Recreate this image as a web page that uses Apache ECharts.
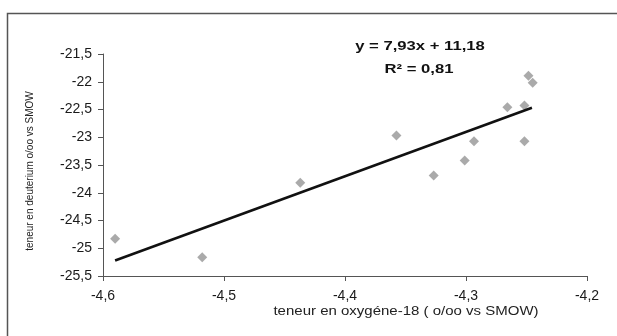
<!DOCTYPE html>
<html><head><meta charset="utf-8">
<script src="https://cdn.jsdelivr.net/npm/echarts@6/dist/echarts.min.js"></script>
<style>html,body{margin:0;padding:0;background:#fff}#c{width:617px;height:336px}</style>
</head><body><div id="c"></div>
<script>
const xValues = [-4.590, -4.518, -4.437, -4.3575, -4.3267, -4.3011, -4.2934, -4.2658, -4.2517, -4.2517, -4.2484, -4.2449];
const yValues = [-24.83, -25.16, -23.82, -22.97, -23.69, -23.42, -23.07, -22.46, -22.43, -23.07, -21.89, -22.02];
const trendX = [-4.590, -4.2455];
const trendY = [-25.22, -22.47];
const xTicks = [-4.6, -4.5, -4.4, -4.3, -4.2];
const yTicks = [-25.5, -25, -24.5, -24, -23.5, -23, -22.5, -22, -21.5];
const equation = 'y = 7,93x + 11,18';
const r2 = 'R² = 0,81';
const xName = 'teneur en oxygéne-18 ( o/oo vs SMOW)';
const yName = 'teneur en deuterium o/oo vs SMOW';

const fmt = v => String(Math.round(v * 10) / 10).replace('.', ',');
const chart = echarts.init(document.getElementById('c'), null, {renderer: 'canvas'});
const font = 'Liberation Sans, Arial, sans-serif';
chart.setOption({
  animation: false,
  grid: {left: 103, right: 30, top: 54, bottom: 60},
  xAxis: {
    type: 'value', min: xTicks[0], max: xTicks[xTicks.length - 1], interval: 0.1,
    axisLine: {lineStyle: {color: '#555', width: 1}},
    axisTick: {show: true, inside: false, length: 5, lineStyle: {color: '#555'}},
    splitLine: {show: false},
    axisLabel: {formatter: fmt, color: '#1a1a1a', fontSize: 14, fontFamily: font, margin: 13}
  },
  yAxis: {
    type: 'value', min: yTicks[0], max: yTicks[yTicks.length - 1], interval: 0.5,
    axisLine: {show: true, lineStyle: {color: '#555', width: 1}},
    axisTick: {show: true, inside: false, length: 5, lineStyle: {color: '#555'}},
    splitLine: {show: false},
    axisLabel: {formatter: fmt, color: '#1a1a1a', fontSize: 14, fontFamily: font, margin: 11},
    name: yName, nameLocation: 'middle', nameGap: 68, nameRotate: 90,
    nameTextStyle: {color: '#222', fontSize: 10, fontFamily: font, padding: [0, 0, 0, -12]}
  },
  series: [
    {
      type: 'scatter', symbol: 'diamond', symbolSize: 10,
      itemStyle: {color: '#959595'},
      data: xValues.map((x, i) => [x, yValues[i]]), z: 2
    },
    {
      type: 'line', symbol: 'none', lineStyle: {color: '#111', width: 2.6},
      data: trendX.map((x, i) => [x, trendY[i]]), z: 3
    }
  ],
  graphic: [
    {type: 'polyline', shape: {points: [[7.5, 340], [7.5, 13.5], [620, 13.5]]}, style: {stroke: '#555', lineWidth: 1.5, fill: null}},
    {type: 'text', x: 420, y: 40, scaleX: 1.28, style: {text: equation, font: 'bold 13px ' + font, fill: '#111', textAlign: 'center'}},
    {type: 'text', x: 419, y: 63, scaleX: 1.28, style: {text: r2, font: 'bold 13px ' + font, fill: '#111', textAlign: 'center'}},
    {type: 'text', x: 406, y: 306, scaleX: 1.25, style: {text: xName, font: '12px ' + font, fill: '#222', textAlign: 'center'}}
  ]
});
</script></body></html>
